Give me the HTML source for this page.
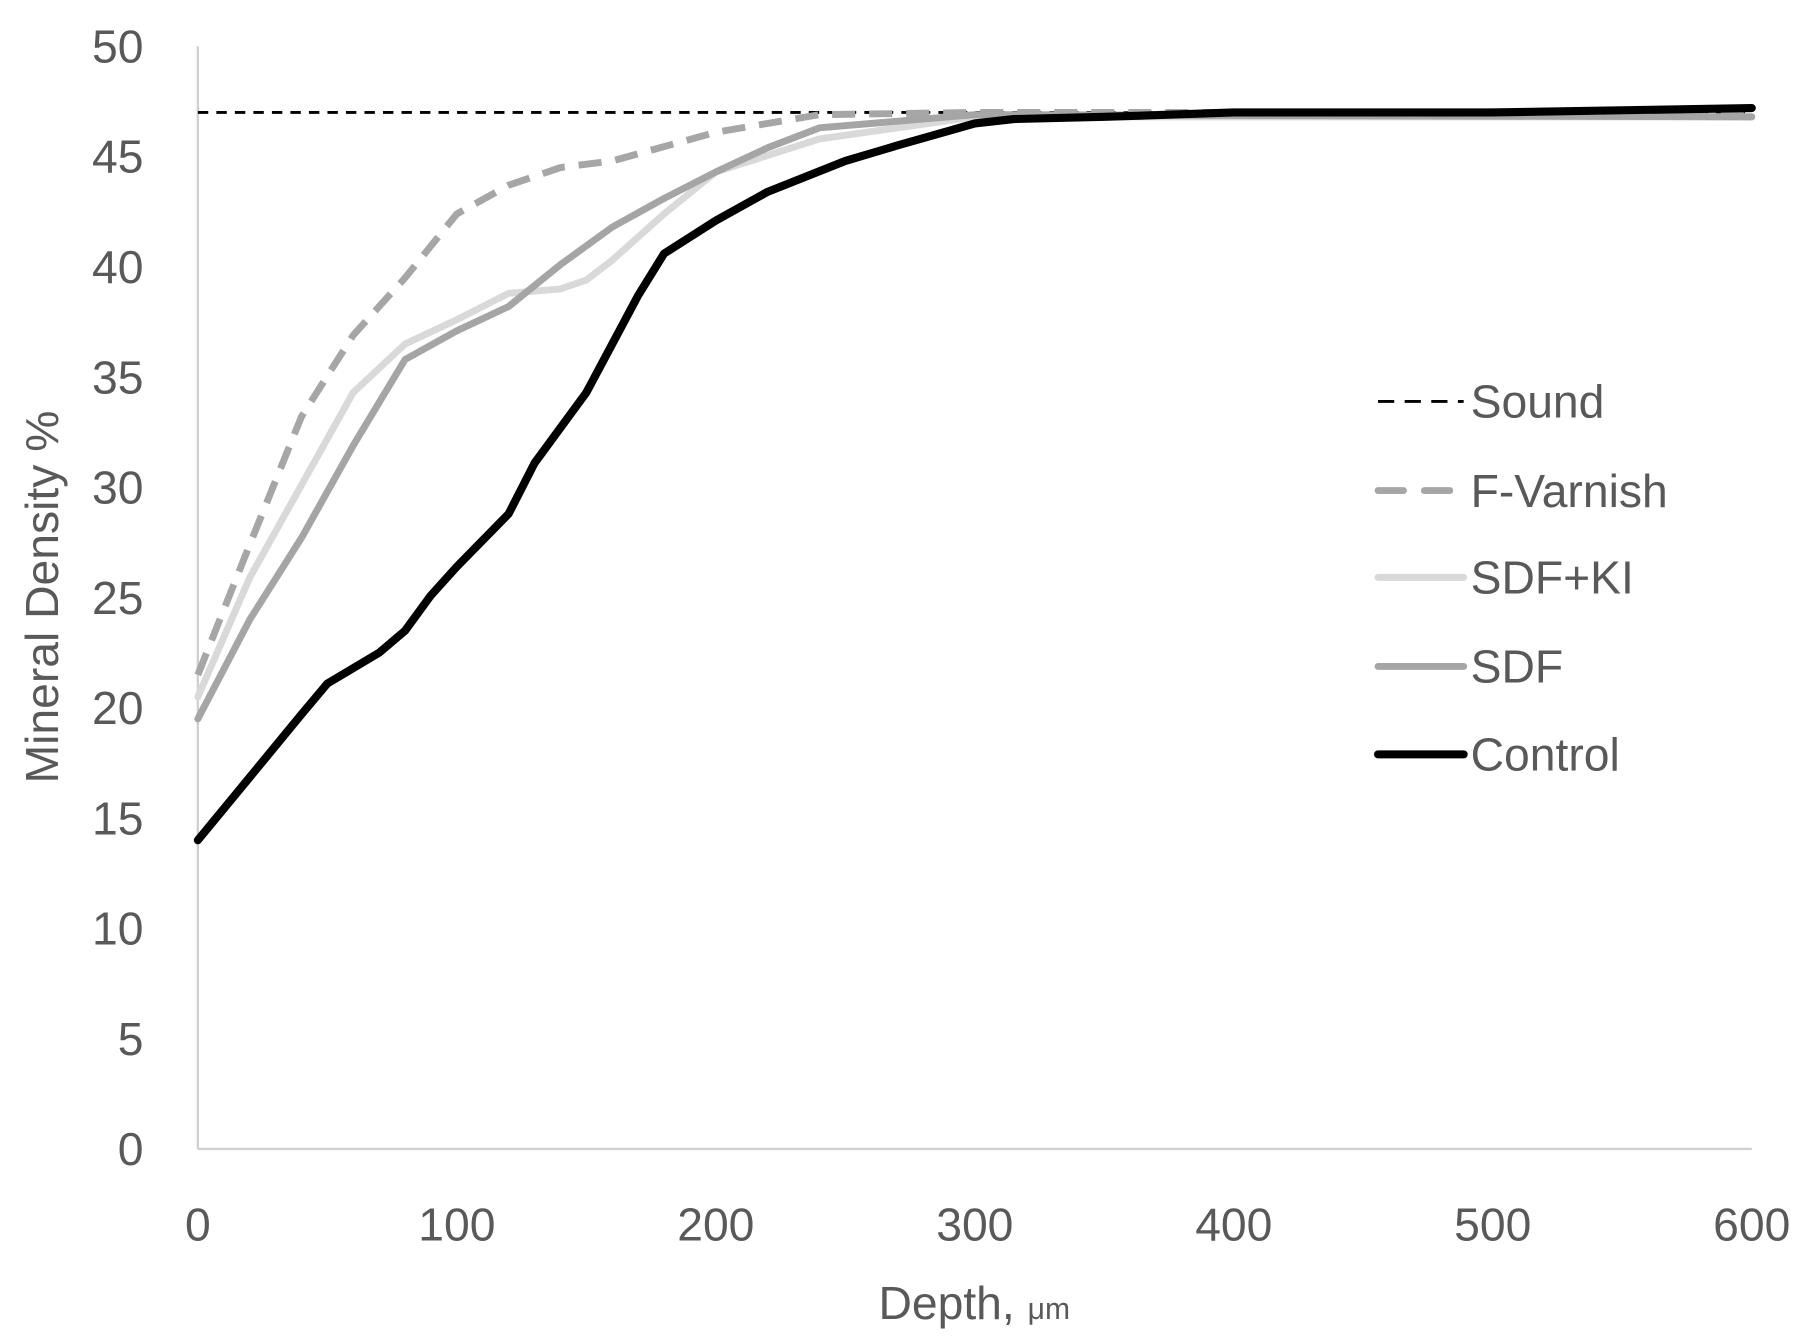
<!DOCTYPE html>
<html><head><meta charset="utf-8"><style>
html,body{margin:0;padding:0;background:#fff;}
svg{display:block;}
text{font-family:"Liberation Sans","DejaVu Sans",sans-serif;fill:#595959;}
</style></head><body>
<svg id="chart" width="1805" height="1341" viewBox="0 0 1560 1159" preserveAspectRatio="none" xmlns="http://www.w3.org/2000/svg">
<g id="axes"></g>
<g id="series"></g>
<g id="legend"></g>
<text transform="translate(50,516) rotate(-90)" text-anchor="middle" font-size="40">Mineral Density %</text>
<text x="842" y="1140" text-anchor="middle" font-size="40">Depth, <tspan font-size="26">μm</tspan></text>
</svg>
<script>
const depthSound = [0, 600];
const valSound = [47, 47];
const depthCtrl = [0,40,50,70,80,90,100,120,130,150,170,180,200,220,250,270,300,315,350,400,500,600];
const valCtrl = [14.0,19.7,21.1,22.5,23.5,25.1,26.4,28.8,31.1,34.3,38.7,40.6,42.1,43.4,44.8,45.5,46.5,46.7,46.8,47.0,47.0,47.2];
const depthFV = [0,20,40,60,80,100,120,140,160,200,240,300,600];
const valFV = [21.5,27.4,33.2,36.9,39.5,42.4,43.7,44.5,44.8,46.1,46.9,47.0,47.0];
const depthKI = [0,20,40,60,80,100,120,140,150,160,180,200,240,300,600];
const valKI = [20.5,25.9,30.1,34.3,36.5,37.6,38.8,39.0,39.4,40.3,42.4,44.3,45.8,46.8,46.8];
const depthSDF = [0,20,40,60,80,100,120,140,160,180,200,220,240,300,600];
const valSDF = [19.5,24.0,27.7,31.9,35.8,37.1,38.2,40.1,41.8,43.1,44.3,45.4,46.3,46.9,46.8];
const yTicks = [0,5,10,15,20,25,30,35,40,45,50];
const xTicks = [0,100,200,300,400,500,600];
const legendNames = ["Sound","F-Varnish","SDF+KI","SDF","Control"];

const NS = "http://www.w3.org/2000/svg";
const X = v => 171 + v * (1514 - 171) / 600;
const Y = v => 993 - v * (993 - 40) / 50;
function mk(tag, attrs, parent){const e=document.createElementNS(NS,tag);for(const k in attrs)e.setAttribute(k,attrs[k]);parent.appendChild(e);return e;}
const axes=document.getElementById('axes'), ser=document.getElementById('series'), leg=document.getElementById('legend');

const ya = mk('line',{x1:X(0),y1:Y(50),x2:X(0),y2:Y(0),stroke:'#d0d0d0','stroke-width':2},axes);


const xa = mk('line',{x1:X(0),y1:Y(0),x2:X(600),y2:Y(0),stroke:'#d0d0d0','stroke-width':2},axes);


yTicks.forEach(t=>{
  const e=mk('text',{x:124,y:Y(t)+14,'text-anchor':'end','font-size':40},axes);
  e.textContent=t;
  
  
});
xTicks.forEach(t=>{
  const e=mk('text',{x:X(t),y:1072,'text-anchor':'middle','font-size':40},axes);
  e.textContent=t;
  
  
});

const styles = {
  Sound:{c:'#000',w:2.5,d:'9 7'},
  FV:{c:'#a6a6a6',w:6,d:'20 12'},
  KI:{c:'#d9d9d9',w:6,d:''},
  SDF:{c:'#a5a5a5',w:6,d:''},
  Ctrl:{c:'#000',w:7,d:''}
};
function line(xs,ys,s,name){
  const pts=xs.map((x,i)=>X(x).toFixed(1)+','+Y(ys[i]).toFixed(1)).join(' ');
  const p=mk('polyline',{points:pts,fill:'none',stroke:s.c,'stroke-width':s.w,'stroke-linejoin':'round','stroke-linecap':s.d?'butt':'round'},ser);
  if(s.d)p.setAttribute('stroke-dasharray',s.d);
  
  
}
line(depthSound,valSound,styles.Sound,'series-sound');
line(depthKI,valKI,styles.KI,'series-sdf-ki');
line(depthSDF,valSDF,styles.SDF,'series-sdf');
line(depthFV,valFV,styles.FV,'series-f-varnish');
line(depthCtrl,valCtrl,styles.Ctrl,'series-control');

const legY=[347,424,499,576,652];
const legS=[styles.Sound,styles.FV,styles.KI,styles.SDF,styles.Ctrl];
legendNames.forEach((n,i)=>{
  const s=legS[i];
  const l=mk('line',{x1:1191,y1:legY[i],x2:1265,y2:legY[i],stroke:s.c,'stroke-width':s.w,'stroke-linecap':i==0?'butt':'round'},leg);
  if(i==0)l.setAttribute('stroke-dasharray','14 9');
  if(i==1)l.setAttribute('stroke-dasharray','22 18');
  
  
  const t=mk('text',{x:1271,y:legY[i]+14,'font-size':40},leg);
  t.textContent=n;
  
  
});
</script>
</body></html>
